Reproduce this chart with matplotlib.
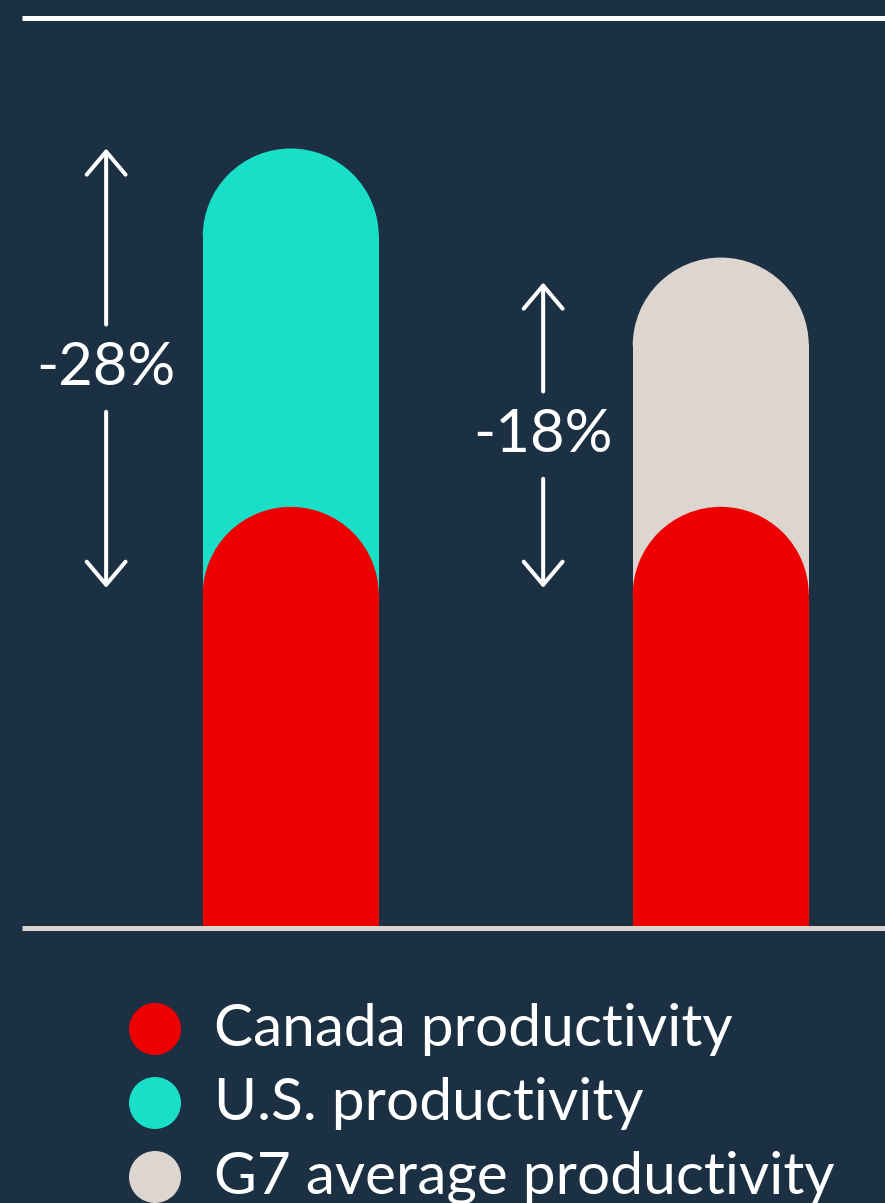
import numpy as np
import matplotlib.pyplot as plt
from matplotlib.patches import Wedge

# === DATA (bar heights indexed so that U.S. = 100) ===
groups = ['U.S.', 'G7 average']
comparison = [100, 86]          # U.S. / G7 average productivity
canada = [54, 54]               # Canada productivity, shown in front of each
gap_labels = ['-28%', '-18%']
legend_labels = ['Canada productivity', 'U.S. productivity', 'G7 average productivity']

# === STYLE ===
BG = '#1b3042'
RED = '#ee0000'
TEAL = '#19dfc9'
BEIGE = '#ddd5cf'
comparison_colors = [TEAL, BEIGE]
legend_colors = [RED, TEAL, BEIGE]
FONT = ['Lato', 'DejaVu Sans']
plt.rcParams['font.family'] = FONT

W, H = 885, 1203
fig = plt.figure(figsize=(W / 100, H / 100), dpi=100, facecolor=BG)

# main axes placed in pixel terms, same scale on x and y so the caps are round
px_per_unit = 7.79
left, right, top, base = 22, 885, 17.5, 927.5
ax = fig.add_axes([left / W, (H - base) / H, (right - left) / W, (base - top) / H])
ax.set_facecolor(BG)
ax.set_xlim(0, (right - left) / px_per_unit)
ax.set_ylim(0, (base - top) / px_per_unit)

x = np.array([34.5, 89.7])
width = 22.6
r = width / 2


def rounded_bars(xs, heights, colors):
    heights = np.asarray(heights, dtype=float)
    ax.bar(xs, heights - r + 0.15, width, color=colors, linewidth=0)
    for xi, h, c in zip(xs, heights, colors):
        ax.add_patch(Wedge((xi, h - r), r, 0, 180, facecolor=c, linewidth=0))


rounded_bars(x, comparison, comparison_colors)
rounded_bars(x, canada, [RED, RED])

# gap arrows with the label in the middle
arrow_x = [10.8, 66.9]
arrow_top = [100, 82.8]
arrow_bottom = [43.6, 43.6]
half_gap = 5.6
for ax_x, yt, yb, lab in zip(arrow_x, arrow_top, arrow_bottom, gap_labels):
    ymid = (yt + yb) / 2
    style = dict(arrowstyle='->,head_length=0.83,head_width=0.7', color='white',
                 lw=2.9, mutation_scale=20, shrinkA=0, shrinkB=0)
    ax.annotate('', xy=(ax_x, yt), xytext=(ax_x, ymid + half_gap), arrowprops=style)
    ax.annotate('', xy=(ax_x, yb), xytext=(ax_x, ymid - half_gap), arrowprops=style)
    ax.text(ax_x, ymid, lab, color='white', fontsize=43, ha='center', va='center')

ax.set_xticks([])
ax.set_yticks([])
for s in ['left', 'right']:
    ax.spines[s].set_visible(False)
ax.spines['top'].set_color('white')
ax.spines['top'].set_linewidth(3.6)
ax.spines['bottom'].set_color(BEIGE)
ax.spines['bottom'].set_linewidth(3.6)
for s in ['top', 'bottom']:
    ax.spines[s].set_capstyle('butt')

# === LEGEND (drawn by hand in pixel coordinates) ===
lax = fig.add_axes([0, 0, 1, (H - 940) / H])
lax.set_xlim(0, W)
lax.set_ylim(H, 940)
lax.axis('off')
leg_y = [1029, 1103, 1177]
lax.scatter([155] * 3, leg_y, s=(52 * 0.72) ** 2, c=legend_colors, linewidths=0, clip_on=False)
for y, lab in zip(leg_y, legend_labels):
    lax.text(214, y + 17, lab, color='white', fontsize=42.2, ha='left', va='baseline', clip_on=False)

fig.savefig('out.png', dpi=100, facecolor=BG)
